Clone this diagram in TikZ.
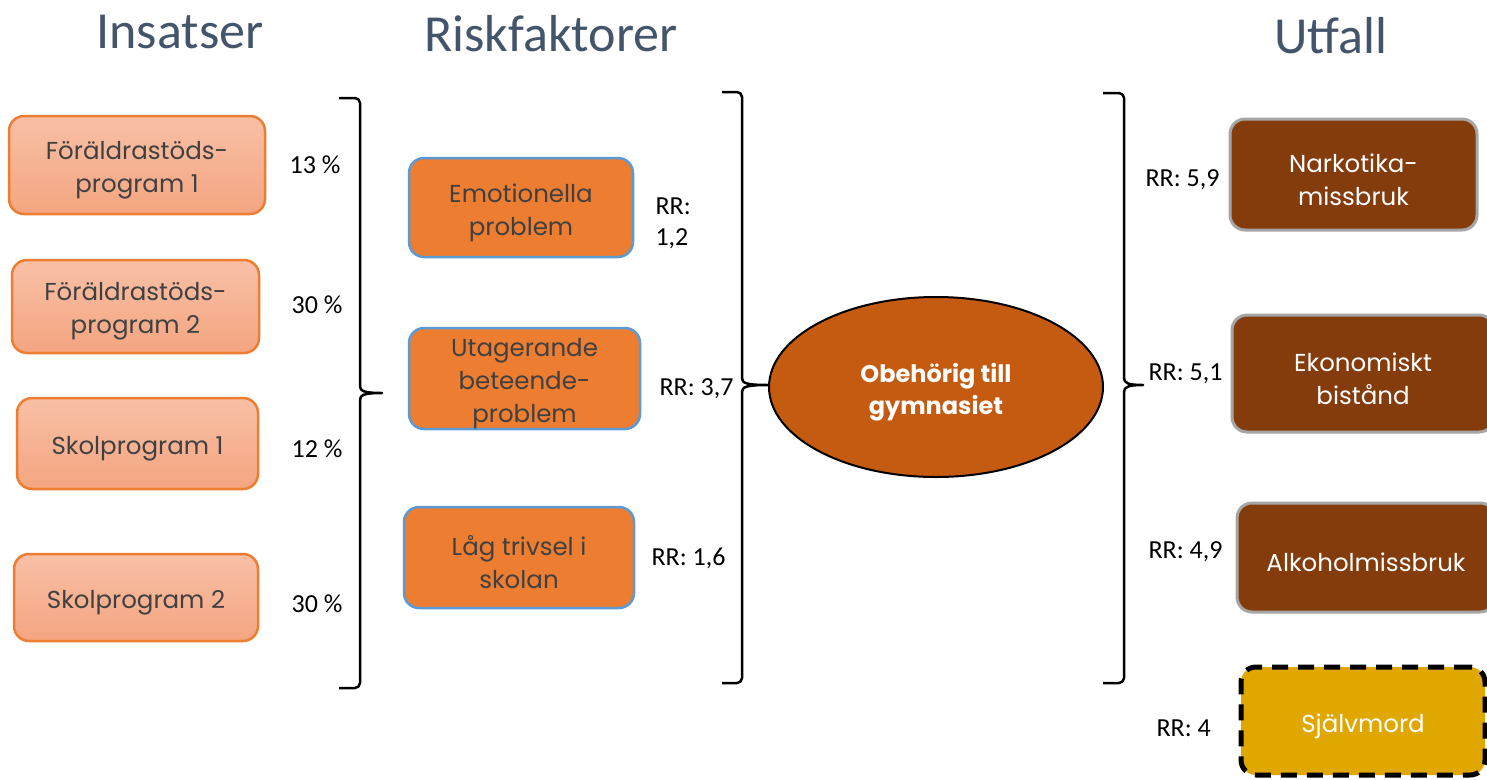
\documentclass[tikz,border=0pt]{standalone}
\usepackage{fontspec}
\setmainfont{Carlito}
\newfontfamily\boxfont{Poppins}
\usetikzlibrary{shapes.geometric}
\definecolor{titlec}{HTML}{44546A}
\definecolor{lfilltop}{HTML}{F8C0A6}
\definecolor{lfillbot}{HTML}{F4A580}
\definecolor{orangeb}{HTML}{ED7D31}
\definecolor{blueb}{HTML}{5B9BD5}
\definecolor{brownf}{HTML}{843C0C}
\definecolor{grayb}{HTML}{A6A6A6}
\definecolor{ellf}{HTML}{C55A11}
\definecolor{goldf}{HTML}{DFA700}
\definecolor{txtgray}{HTML}{404040}
\begin{document}
\begin{tikzpicture}[x=1pt,y=-1pt,
  title/.style={font=\fontsize{52}{58}\selectfont, text=titlec},
  lab/.style={font=\fontsize{26}{31}\selectfont, align=left},
  boxtxt/.style={align=center, inner sep=0pt, yshift=-5pt, font=\boxfont\fontsize{24.5}{33}\selectfont},
  darktxt/.style={boxtxt, text=txtgray},
  lighttxt/.style={boxtxt, text=white},
  basebox/.style={rectangle, rounded corners=15pt, inner sep=0pt},
  leftbox/.style={basebox, top color=lfilltop, bottom color=lfillbot, draw=orangeb, line width=2.5pt},
  midbox/.style={basebox, fill=orangeb, draw=blueb, line width=2.5pt},
  rightbox/.style={basebox, fill=brownf, draw=grayb, line width=3pt},
  dashbox/.style={basebox, fill=goldf, draw=black, line width=5pt, dash pattern=on 16pt off 10pt},
  brace/.style={draw=black, line width=2.5pt, line join=round}
]
\clip (0,0) rectangle (1487,779);
\fill[white] (0,0) rectangle (1487,779);

% titles
\node[title] (t1) at (180,32) {Insatser};
\node[title] (t2) at (551,34) {Riskfaktorer};
\node[title] (t3) at (1331,36) {Utfall};

% left boxes
\node[leftbox, minimum width=256, minimum height=98,
  label={[darktxt]center:{Föräldrastöds-\\program 1}}] (l1) at (137,165) {};
\node[leftbox, minimum width=247, minimum height=93,
  label={[darktxt]center:{Föräldrastöds-\\program 2}}] (l2) at (135.5,306.5) {};
\node[leftbox, minimum width=241, minimum height=91,
  label={[darktxt]center:{Skolprogram 1}}] (l3) at (137.5,443.5) {};
\node[leftbox, minimum width=244, minimum height=87,
  label={[darktxt]center:{Skolprogram 2}}] (l4) at (136,597.5) {};

\node[lab] (p1) at (315,165) {13 \%};
\node[lab] (p2) at (317,305) {30 \%};
\node[lab] (p3) at (317,449) {12 \%};
\node[lab] (p4) at (317,604) {30 \%};

% left brace
\draw[brace] (339,98) -- (355,98) to[out=0,in=90] (360,103) -- (360,386)
  .. controls (360,391) and (364,393) .. (382,393)
  .. controls (364,393) and (360,395) .. (360,400) -- (360,683) to[out=-90,in=0] (355,688) -- (339,688);

% middle boxes
\node[midbox, minimum width=224, minimum height=99,
  label={[darktxt]center:{Emotionella\\problem}}] (m1) at (521,207.5) {};
\node[midbox, minimum width=231, minimum height=101,
  label={[darktxt]center:{Utagerande\\beteende-\\problem}}] (m2) at (524.5,378.5) {};
\node[midbox, minimum width=230, minimum height=101,
  label={[darktxt]center:{Låg trivsel i\\skolan}}] (m3) at (519,557.5) {};

\node[lab, anchor=west] (r1) at (652,223) {RR:\\1,2};
\node[lab, anchor=west] (r2) at (656,389) {RR: 3,7};
\node[lab, anchor=west] (r3) at (648,558) {RR: 1,6};

% middle brace
\draw[brace] (722,92) -- (737,92) to[out=0,in=90] (742,97) -- (742,378)
  .. controls (742,383) and (746,385) .. (768,385)
  .. controls (746,385) and (742,387) .. (742,392) -- (742,678) to[out=-90,in=0] (737,683) -- (722,683);

% ellipse
\node[ellipse, fill=ellf, draw=black, line width=2pt, minimum width=334, minimum height=180, inner sep=0pt,
  label={[lighttxt, font=\boxfont\bfseries\fontsize{24}{32}\selectfont, yshift=0pt]center:{Obehörig till\\gymnasiet}}] (e) at (936,387) {};

% right brace
\draw[brace] (1103,93) -- (1119,93) to[out=0,in=90] (1124,98) -- (1124,378)
  .. controls (1124,383) and (1128,385) .. (1143,385)
  .. controls (1128,385) and (1124,387) .. (1124,392) -- (1124,678) to[out=-90,in=0] (1119,683) -- (1103,683);

% right boxes
\node[rightbox, minimum width=247, minimum height=111,
  label={[lighttxt]center:{Narkotika-\\missbruk}}] (o1) at (1353.5,174.5) {};
\node[rightbox, minimum width=262, minimum height=117,
  label={[lighttxt]center:{Ekonomiskt\\bistånd}}] (o2) at (1363,373.5) {};
\node[rightbox, minimum width=258, minimum height=109,
  label={[lighttxt]center:{Alkoholmissbruk}}] (o3) at (1366,557.5) {};
\node[dashbox, minimum width=244, minimum height=108,
  label={[lighttxt]center:{Självmord}}] (o4) at (1363,721) {};

\node[lab, anchor=west] (q1) at (1142,180) {RR: 5,9};
\node[lab, anchor=west] (q2) at (1145,374) {RR: 5,1};
\node[lab, anchor=west] (q3) at (1145,552) {RR: 4,9};
\node[lab, anchor=west] (q4) at (1153,728) {RR: 4};
\end{tikzpicture}
\end{document}
